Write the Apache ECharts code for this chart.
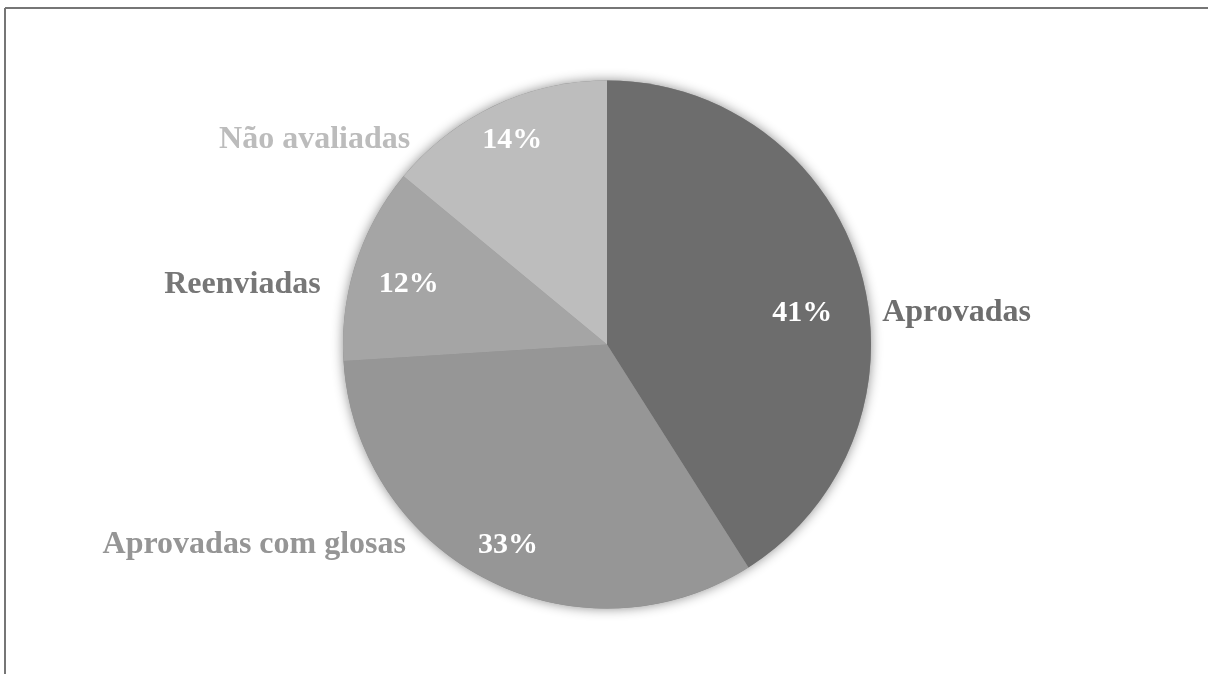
<!DOCTYPE html>
<html>
<head>
<meta charset="utf-8">
<style>
html,body{margin:0;padding:0;background:#fff;}
#chart{width:1208px;height:674px;}
</style>
<script src="https://cdn.jsdelivr.net/npm/echarts@6/dist/echarts.min.js"></script>
</head>
<body>
<div id="chart"></div>
<script>
// ---- data ----
var categories = ['Aprovadas', 'Aprovadas com glosas', 'Reenviadas', 'Não avaliadas'];
var values = [41, 33, 12, 14];

// ---- styles ----
var sliceColors = ['#6d6d6d', '#969696', '#a5a5a5', '#bdbdbd'];
var nameColors = ['#6e6e6e', '#959595', '#777777', '#bcbcbc'];
var labelOffsets = [[-20, 31], [3, 1], [15, 9], [1, -2]];
var labelGaps = [50, 72, 58, 72];
var FONT = "'Liberation Serif','Times New Roman',serif";
var FS_NAME = 32, FS_PCT = 30;
var CX = 607, CY = 344.5, R = 264;

var total = values.reduce(function (a, b) { return a + b; }, 0);
var cum = 0;
var sides = values.map(function (v) {
  var f = (cum + v / 2) / total;
  cum += v;
  return f < 0.5 ? 'right' : 'left';
});

// measure name widths so the percentage stays centred in the label
var ctx = document.createElement('canvas').getContext('2d');
ctx.font = 'bold ' + FS_NAME + 'px ' + FONT;
var nameWidths = categories.map(function (c) { return Math.ceil(ctx.measureText(c).width); });

var rich = {
  p: { fontFamily: FONT, fontWeight: 'bold', fontSize: FS_PCT, color: '#ffffff', lineHeight: FS_NAME }
};
categories.forEach(function (c, i) {
  rich['n' + i] = { fontFamily: FONT, fontWeight: 'bold', fontSize: FS_NAME, color: nameColors[i], lineHeight: FS_NAME };
  rich['e' + i] = { width: nameWidths[i], fontSize: FS_NAME, lineHeight: FS_NAME };
  rich['g' + i] = { width: labelGaps[i], fontSize: FS_NAME, lineHeight: FS_NAME };
});

var baseData = categories.map(function (c, i) {
  return { name: c, value: values[i], itemStyle: { color: sliceColors[i] } };
});

var labelData = categories.map(function (c, i) {
  return { name: c, value: values[i], label: { offset: labelOffsets[i] } };
});

var chart = echarts.init(document.getElementById('chart'), null, { renderer: 'canvas' });
chart.setOption({
  animation: false,
  backgroundColor: '#ffffff',
  graphic: [
    { type: 'line', shape: { x1: 5, y1: 8, x2: 1208, y2: 8 }, style: { stroke: '#767676', lineWidth: 2 } },
    { type: 'line', shape: { x1: 5, y1: 8, x2: 5, y2: 674 }, style: { stroke: '#767676', lineWidth: 2 } }
  ],
  series: [
    {
      type: 'pie', silent: true, z: 1,
      center: [CX, CY], radius: R,
      label: { show: false }, labelLine: { show: false },
      itemStyle: { color: '#888', shadowBlur: 12, shadowColor: 'rgba(0,0,0,0.45)' },
      data: [{ value: total }]
    },
    {
      type: 'pie', silent: true, z: 2,
      center: [CX, CY], radius: R,
      startAngle: 90, clockwise: true,
      label: { show: false }, labelLine: { show: false },
      itemStyle: { borderWidth: 0 },
      data: baseData
    },
    {
      type: 'pie', silent: true, z: 3,
      center: [CX, CY], radius: 442,
      startAngle: 90, clockwise: true,
      avoidLabelOverlap: false,
      labelLayout: { hideOverlap: false },
      itemStyle: { color: 'rgba(0,0,0,0)', borderWidth: 0 },
      labelLine: { show: false },
      label: {
        show: true, position: 'inside',
        formatter: function (p) {
          var i = p.dataIndex;
          var pct = '{p|' + values[i] + '%}';
          var name = '{n' + i + '|' + categories[i] + '}';
          var gap = '{g' + i + '| }';
          if (sides[i] === 'right') {
            return '{e' + i + '| }' + gap + pct + gap + name;
          }
          return name + gap + pct + gap + '{e' + i + '| }';
        },
        rich: rich
      },
      data: labelData
    }
  ]
});
</script>
</body>
</html>
